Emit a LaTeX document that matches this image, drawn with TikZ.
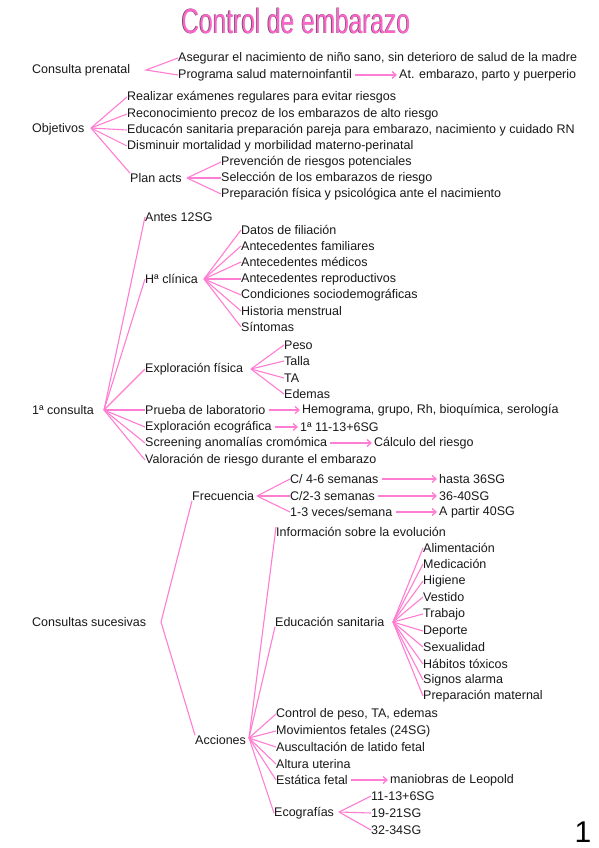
\documentclass[tikz,border=0pt]{standalone}
\usepackage{fontspec}
\setmainfont{Liberation Sans}
\usetikzlibrary{arrows.meta,calc}
\definecolor{pk}{RGB}{255,125,210}
\definecolor{titlepk}{RGB}{255,100,205}
\newcommand{\shadowtitle}[1]{\makebox[0pt][l]{\hspace{-0.9pt}\raisebox{-0.9pt}{\textcolor{black!70}{#1}}}\textcolor{titlepk}{#1}}
\begin{document}
\begin{tikzpicture}[x=1pt,y=-1pt,
  t/.style={anchor=west,inner sep=0pt,font=\fontsize{12.5}{14}\selectfont,text=black!90},
  br/.style={draw=pk,line width=1.1pt},
  ar/.style={draw=pk,line width=1.3pt,shorten <=3pt,shorten >=2pt,-{Straight Barb[length=4pt,width=7pt]}}]
\useasboundingbox (0,0) rectangle (599,848);
\fill[white] (0,0) rectangle (599,848);
% title
\node[inner sep=0pt] (title) at (296,21) {\fontsize{35}{35}\selectfont\scalebox{0.70}[1]{\shadowtitle{Control de embarazo}}};
% Consulta prenatal
\node[t] (cp) at (32,70) {Consulta prenatal};
\node[t] (cp1) at (178,58) {Asegurar el nacimiento de niño sano, sin deterioro de salud de la madre};
\node[t] (cp2) at (178,75) {Programa salud maternoinfantil};
\node[t] (cp2a) at (399,75) {At. embarazo, parto y puerperio};
\coordinate (bcp) at (146,70);
\draw[br] (cp1.west) -- (bcp) -- (cp2.west);
\draw[ar] (cp2) -- (cp2a);
% Objetivos
\node[t] (ob) at (32,129) {Objetivos};
\node[t] (ob1) at (127,97) {Realizar exámenes regulares para evitar riesgos};
\node[t] (ob2) at (127,114) {Reconocimiento precoz de los embarazos de alto riesgo};
\node[t] (ob3) at (127,130) {Educacón sanitaria preparación pareja para embarazo, nacimiento y cuidado RN};
\node[t] (ob4) at (127,146) {Disminuir mortalidad y morbilidad materno-perinatal};
\node[t] (pa) at (130,178) {Plan acts};
\coordinate (bob) at (91,128);
\foreach \n in {ob1,ob2,ob3,ob4} \draw[br] (bob) -- (\n.west);
\draw[br] (bob) -- (pa.north west);
\node[t] (pa1) at (221,162) {Prevención de riesgos potenciales};
\node[t] (pa2) at (221,178) {Selección de los embarazos de riesgo};
\node[t] (pa3) at (221,194) {Preparación física y psicológica ante el nacimiento};
\coordinate (bpa) at (187,178);
\foreach \n in {pa1,pa2,pa3} \draw[br] (bpa) -- (\n.west);
% 1a consulta
\node[t] (c1) at (32,410) {1ª consulta};
\coordinate (bc1) at (104,410);
\node[t] (a12) at (145,217) {Antes 12SG};
\node[t] (hc) at (145,279) {Hª clínica};
\node[t] (ef) at (145,369) {Exploración física};
\node[t] (pl) at (145,410) {Prueba de laboratorio};
\node[t] (eco) at (145,427) {Exploración ecográfica};
\node[t] (scr) at (145,443) {Screening anomalías cromómica};
\node[t] (val) at (145,460) {Valoración de riesgo durante el embarazo};
\foreach \n in {a12,hc,ef,pl,eco,scr,val} \draw[br] (bc1) -- (\n.west);
\node[t] (hc1) at (241,230) {Datos de filiación};
\node[t] (hc2) at (241,246) {Antecedentes familiares};
\node[t] (hc3) at (241,262) {Antecedentes médicos};
\node[t] (hc4) at (241,279) {Antecedentes reproductivos};
\node[t] (hc5) at (241,295) {Condiciones sociodemográficas};
\node[t] (hc6) at (241,311) {Historia menstrual};
\node[t] (hc7) at (241,327) {Síntomas};
\coordinate (bhc) at (204,279);
\foreach \n in {hc1,hc2,hc3,hc4,hc5,hc6,hc7} \draw[br] (bhc) -- (\n.west);
\node[t] (ef1) at (284,345) {Peso};
\node[t] (ef2) at (284,361) {Talla};
\node[t] (ef3) at (284,378) {TA};
\node[t] (ef4) at (284,394) {Edemas};
\coordinate (bef) at (251,369);
\foreach \n in {ef1,ef2,ef3,ef4} \draw[br] (bef) -- (\n.west);
\node[t] (pla) at (302,410) {Hemograma, grupo, Rh, bioquímica, serología};
\node[t] (ecoa) at (300,427) {1ª 11-13+6SG};
\node[t] (scra) at (374,443) {Cálculo del riesgo};
\draw[ar] (pl) -- (pla);
\draw[ar] (eco) -- (ecoa);
\draw[ar] (scr) -- (scra);
% Consultas sucesivas
\node[t] (cs) at (32,622) {Consultas sucesivas};
\coordinate (bcs) at (161,622);
\node[t] (fr) at (192,496) {Frecuencia};
\node[t] (ac) at (195,740) {Acciones};
\draw[br] (bcs) -- (fr.south west);
\draw[br] (bcs) -- (ac.north west);
\node[t] (fr1) at (290,479) {C/ 4-6 semanas};
\node[t] (fr2) at (290,496) {C/2-3 semanas};
\node[t] (fr3) at (290,512) {1-3 veces/semana};
\coordinate (bfr) at (257,496);
\foreach \n in {fr1,fr2,fr3} \draw[br] (bfr) -- (\n.west);
\node[t] (fr1a) at (439,479) {hasta 36SG};
\node[t] (fr2a) at (439,496) {36-40SG};
\node[t] (fr3a) at (439,512) {A partir 40SG};
\draw[ar] (fr1) -- (fr1a);
\draw[ar] (fr2) -- (fr2a);
\draw[ar] (fr3) -- (fr3a);
% Acciones
\coordinate (bac) at (249,738);
\node[t] (ac1) at (276,532) {Información sobre la evolución};
\node[t] (ac2) at (275,622) {Educación sanitaria};
\node[t] (ac3) at (276,714) {Control de peso, TA, edemas};
\node[t] (ac4) at (276,731) {Movimientos fetales (24SG)};
\node[t] (ac5) at (276,747) {Auscultación de latido fetal};
\node[t] (ac6) at (276,764) {Altura uterina};
\node[t] (ac7) at (276,780) {Estática fetal};
\node[t] (ac8) at (274,813) {Ecografías};
\draw[br] (bac) -- (ac1.north west);
\draw[br] (bac) -- (ac2.south west);
\foreach \n in {ac3,ac4,ac5,ac6,ac7,ac8} \draw[br] (bac) -- (\n.west);
\node[t] (ac7a) at (390,780) {maniobras de Leopold};
\draw[ar] (ac7) -- (ac7a);
\node[t] (ec1) at (371,796) {11-13+6SG};
\node[t] (ec2) at (371,813) {19-21SG};
\node[t] (ec3) at (371,830) {32-34SG};
\coordinate (bec) at (339,812);
\foreach \n in {ec1,ec2,ec3} \draw[br] (bec) -- (\n.west);
% Educacion sanitaria
\coordinate (bes) at (393,622);
\foreach \y/\n/\s in {548/es1/Alimentación,564/es2/Medicación,581/es3/Higiene,597/es4/Vestido,614/es5/Trabajo,631/es6/Deporte,647/es7/Sexualidad,664/es8/Hábitos tóxicos,680/es9/Signos alarma,696/es10/Preparación maternal}{
  \node[t] (\n) at (423,\y) {\s};
  \draw[br] (bes) -- (\n.west);
}
% page number
\node[inner sep=0pt,font=\fontsize{30}{30}\selectfont] (pg) at (583,832) {1};
\end{tikzpicture}
\end{document}
